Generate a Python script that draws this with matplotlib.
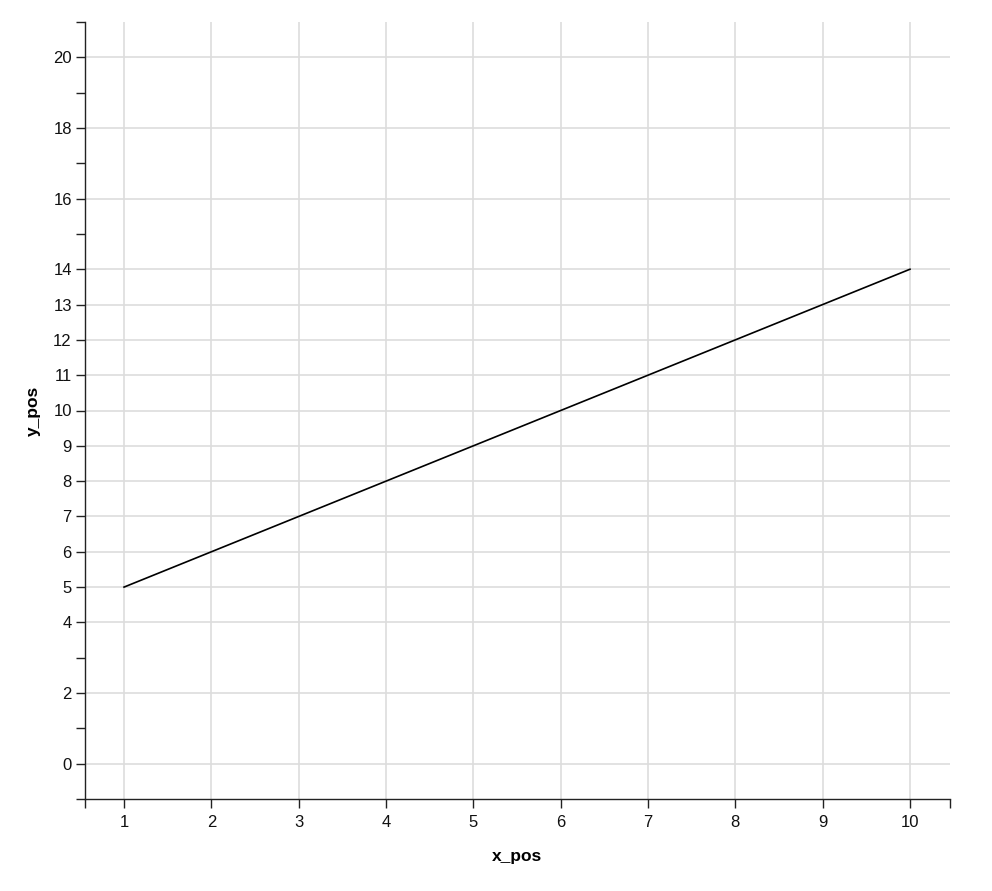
import matplotlib
matplotlib.use("Agg")
import matplotlib.pyplot as plt
from matplotlib.ticker import FixedLocator

x_pos = [1, 2, 3, 4, 5, 6, 7, 8, 9, 10]
y_pos = [5, 6, 7, 8, 9, 10, 11, 12, 13, 14]

y_major = [0, 2, 4, 5, 6, 7, 8, 9, 10, 11, 12, 13, 14, 16, 18, 20]
y_minor = [-1, 1, 3, 15, 17, 19, 21]
x_major = x_pos

plt.rcParams["font.family"] = ["Liberation Sans", "DejaVu Sans"]

W, H = 992, 891
fig = plt.figure(figsize=(W / 100, H / 100), dpi=100)
ax = fig.add_axes([85 / W, (H - 799) / H, (950 - 85) / W, (799 - 22) / H])

ax.plot(x_pos, y_pos, color="black", linewidth=1.2, zorder=3)

ax.set_xlim(0.553, 10.458)
ax.set_ylim(-1, 21)

ax.yaxis.set_major_locator(FixedLocator(y_major))
ax.yaxis.set_minor_locator(FixedLocator(y_minor))
ax.xaxis.set_major_locator(FixedLocator(x_major))
ax.xaxis.set_minor_locator(FixedLocator([0.553, 10.458]))

ax.grid(True, which="major", color="#dddddd", linewidth=1.2, zorder=0)
ax.set_axisbelow(True)

for side in ["top", "right"]:
    ax.spines[side].set_visible(False)
for side in ["left", "bottom"]:
    ax.spines[side].set_linewidth(1.0)
    ax.spines[side].set_color("#222222")

ax.tick_params(axis="both", which="both", length=6.5, width=1.0, color="#222222",
               labelsize=12, labelcolor="#111111")
ax.tick_params(axis="y", which="both", pad=3)
ax.tick_params(axis="x", which="both", pad=5)

ax.set_xlabel("x_pos", fontsize=12.5, fontweight="bold", labelpad=14)
ax.set_ylabel("y_pos", fontsize=12.5, fontweight="bold", labelpad=9)

fig.savefig("out.png", dpi=100)
